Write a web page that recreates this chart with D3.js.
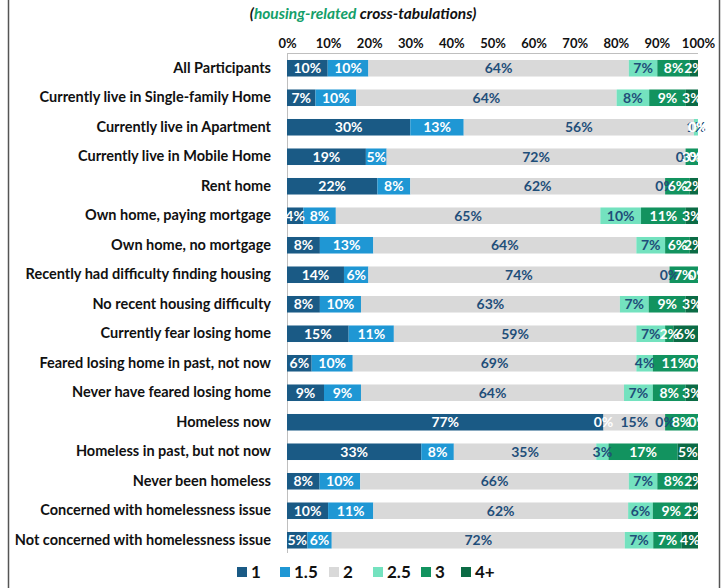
<!DOCTYPE html>
<html><head><meta charset="utf-8">
<script src="https://cdn.jsdelivr.net/npm/d3@7/dist/d3.min.js"></script>
<style>body{margin:0;background:#fff;}svg{display:block;font-family:Lato,"Open Sans",sans-serif;}</style>
</head><body><svg id="c" width="725" height="588"></svg>
<script>
const categories = ["All Participants","Currently live in Single-family Home","Currently live in Apartment","Currently live in Mobile Home","Rent home","Own home, paying mortgage","Own home, no mortgage","Recently had difficulty finding housing","No recent housing difficulty","Currently fear losing home","Feared losing home in past, not now","Never have feared losing home","Homeless now","Homeless in past, but not now","Never been homeless","Concerned with homelessness issue","Not concerned with homelessness issue"];
const seriesNames = ["1","1.5","2","2.5","3","4+"];
const s1  = [10, 7,30,19,22, 4, 8,14, 8,15, 6, 9,77,33, 8,10, 5];
const s15 = [10,10,13, 5, 8, 8,13, 6,10,11,10, 9, 0, 8,10,11, 6];
const s2  = [64,64,56,72,62,65,64,74,63,59,69,64,15,35,66,62,72];
const s25 = [ 7, 8, 1, 0, 0,10, 7, 0, 7, 7, 4, 7, 0, 3, 7, 6, 7];
const s3  = [ 8, 9, 0, 3, 6,11, 6, 7, 9, 2,11, 8, 8,17, 8, 9, 7];
const s4  = [ 2, 3, 0, 0, 2, 3, 2, 0, 3, 6, 0, 3, 0, 5, 2, 2, 4];
const tickValues = [0,0.1,0.2,0.3,0.4,0.5,0.6,0.7,0.8,0.9,1];

const colors = ["#1a5a85","#1f97d4","#d9d9d9","#74e2bf","#12935f","#0b6b45"];
const labelColors = ["#fff","#fff","#1f4e79","#1f4e79","#fff","#fff"];
const allSeries = [s1,s15,s2,s25,s3,s4];
const rows = categories.map((c,i)=>{const o={cat:c}; seriesNames.forEach((k,j)=>o[k]=allSeries[j][i]); return o;});

const svg = d3.select("#c");
// outer frame
svg.append("line").attr("x1",8.5).attr("x2",8.5).attr("y1",0).attr("y2",588).attr("stroke","#555").attr("stroke-width",1.5);
svg.append("line").attr("x1",719.5).attr("x2",719.5).attr("y1",0).attr("y2",588).attr("stroke","#555").attr("stroke-width",1.5);

// subtitle
const sub = svg.append("text").attr("x",363).attr("y",19).attr("text-anchor","middle")
  .attr("font-size",15.5).attr("font-weight","bold").attr("font-style","italic").attr("fill","#111");
sub.append("tspan").text("(");
sub.append("tspan").attr("fill","#14a06a").text("housing-related");
sub.append("tspan").text(" cross-tabulations)");

const x = d3.scaleLinear().domain([0,1]).range([287,698]);
const y = d3.scaleBand().domain(categories).range([53.5,555]).paddingInner(0.44).paddingOuter(0.22);

// plot area border
svg.append("line").attr("x1",x(0)).attr("x2",x(1)).attr("y1",53.5).attr("y2",53.5).attr("stroke","#bfbfbf");
svg.append("line").attr("x1",x(0)+0.5).attr("x2",x(0)+0.5).attr("y1",53.5).attr("y2",553).attr("stroke","#bfbfbf");

// top axis
const ax = svg.append("g").attr("transform","translate(0,50)")
  .call(d3.axisTop(x).tickValues(tickValues).tickFormat(d3.format(".0%")).tickSize(0).tickPadding(0));
ax.select(".domain").remove();
ax.selectAll("text").attr("font-size",13).attr("font-weight","bold").attr("fill","#111").attr("font-family","Lato").attr("dy","-0.15em");

// category labels
const ay = svg.append("g").attr("transform","translate(271,0)")
  .call(d3.axisLeft(y).tickSize(0).tickPadding(0));
ay.select(".domain").remove();
ay.selectAll("text").attr("font-size",14.5).attr("font-weight","bold").attr("fill","#111").attr("font-family","Lato");

const stack = d3.stack().keys(seriesNames).offset(d3.stackOffsetExpand);
const stacked = stack(rows);

const g = svg.append("g");
stacked.forEach((layer,j)=>{
  g.selectAll(null).data(layer).join("rect")
    .attr("x",d=>x(d[0])).attr("width",d=>Math.max(0,x(d[1])-x(d[0])))
    .attr("y",d=>y(d.data.cat)).attr("height",y.bandwidth())
    .attr("fill",colors[j]);
});
stacked.forEach((layer,j)=>{
  g.selectAll(null).data(layer).join("text")
    .attr("x",d=>(x(d[0])+x(d[1]))/2).attr("y",d=>y(d.data.cat)+y.bandwidth()/2)
    .attr("dy","0.36em").attr("text-anchor","middle")
    .attr("font-size",14).attr("font-weight","bold").attr("fill",labelColors[j])
    .text(d=>d.data[seriesNames[j]]+"%");
});

// legend
const legX = [237,280,329,373,421,461];
const leg = svg.append("g");
seriesNames.forEach((k,j)=>{
  leg.append("rect").attr("x",legX[j]).attr("y",567).attr("width",10).attr("height",10).attr("fill",colors[j]);
  leg.append("text").attr("x",legX[j]+14).attr("y",572).attr("dy","0.36em")
    .attr("font-size",17).attr("font-weight","bold").attr("fill","#111").text(k);
});
</script></body></html>
